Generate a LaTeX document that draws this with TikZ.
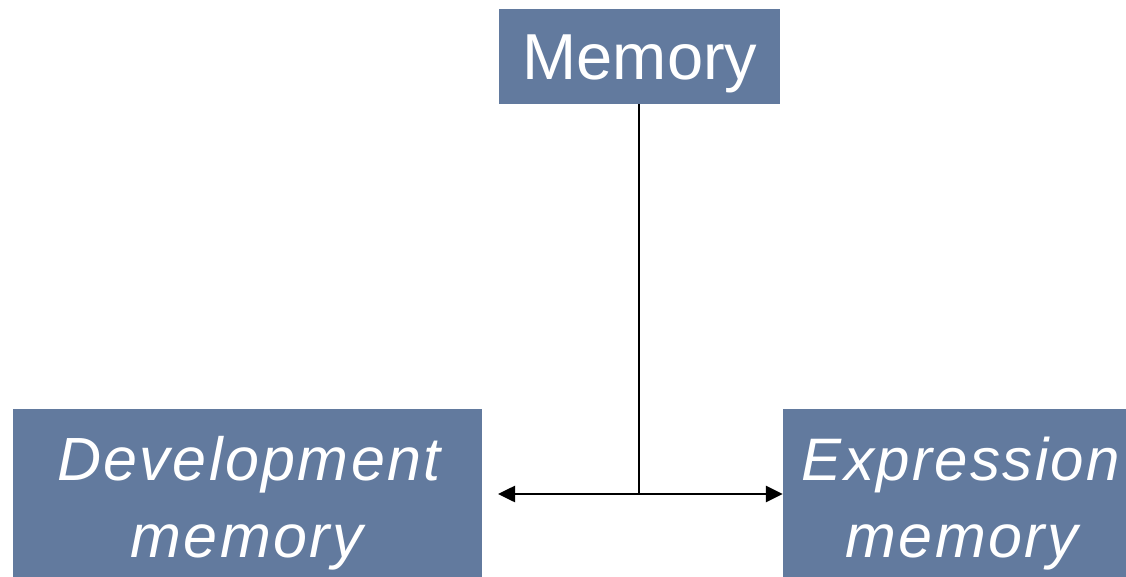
\documentclass[tikz,border=0pt]{standalone}
\usepackage{fontspec}
\setmainfont{Liberation Sans}
\newfontfamily\spacedfont{Liberation Sans}[LetterSpace=4]
\usetikzlibrary{arrows.meta}
\definecolor{boxblue}{RGB}{98,122,158}
\tikzset{
  box/.style={fill=boxblue, draw=none, inner sep=0pt, rectangle},
  lbl/.style={text=white, inner sep=0pt, anchor=base},
  conn/.style={line width=2.6pt, draw=black},
  tip/.style={-{Triangle[length=17pt,width=16pt]}}
}
\begin{document}
\begin{tikzpicture}[x=1pt,y=-1pt]
\useasboundingbox (0,0) rectangle (1126,577);
\node[box, minimum width=281pt, minimum height=95pt] (mem) at (639.5,56.5) {};
\node[box, minimum width=469pt, minimum height=168pt] (dev) at (247.5,493) {};
\node[box, minimum width=343pt, minimum height=168pt] (exp) at (954.5,493) {};
\node[lbl, font=\fontsize{65}{72}\selectfont] (memt) at (640,80) {Memory};
\node[lbl, font=\spacedfont\itshape\fontsize{61}{77}\selectfont] (devt1) at (249,480) {Development};
\node[lbl, font=\spacedfont\itshape\fontsize{61}{77}\selectfont] (devt2) at (247,557) {memory};
\node[lbl, font=\spacedfont\itshape\fontsize{60}{77}\selectfont] (expt1) at (961,480) {Expression};
\node[lbl, font=\spacedfont\itshape\fontsize{61}{77}\selectfont] (expt2) at (962,557) {memory};
\coordinate (j) at (639,494);
\coordinate (devend) at (498,494);
\draw[conn] (mem.south -| j) -- (j);
\draw[conn, tip] ([xshift=-1.3pt]j) -- (exp.west |- j);
\draw[conn, tip] ([xshift=1.3pt]j) -- (devend);
\end{tikzpicture}
\end{document}
